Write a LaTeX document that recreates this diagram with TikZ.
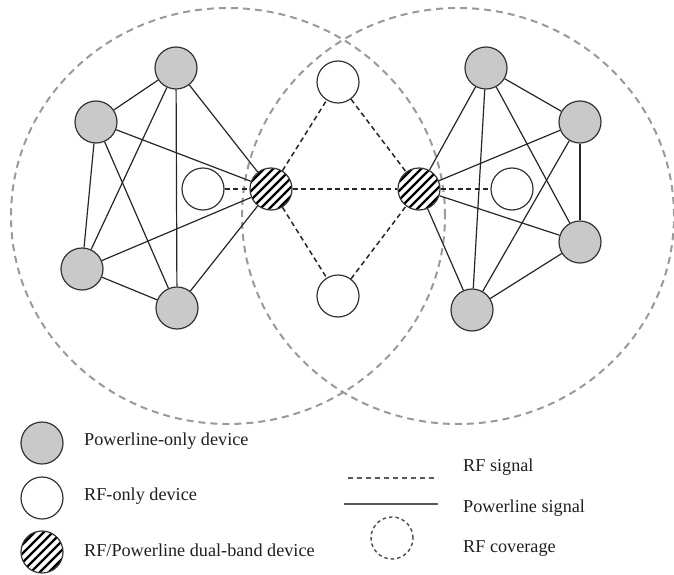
\documentclass[tikz,border=0pt]{standalone}
\usepackage{fontspec}
\setmainfont{Liberation Serif}
\usetikzlibrary{backgrounds}
\definecolor{covgray}{HTML}{9A9A9A}
\definecolor{plgray}{HTML}{C9C9C9}
\definecolor{edge}{HTML}{262626}
\begin{document}
\begin{tikzpicture}[x=1pt,y=-1pt,
  dev/.style={circle,draw=black!80,line width=1.2pt,minimum size=42pt,inner sep=0pt},
  plc/.style={dev,fill=plgray},
  rfo/.style={dev,fill=white},
  dual/.style={dev,fill=white,path picture={
      \foreach \k in {-36,-27,...,36}{
        \draw[line width=2.4pt,black] ([xshift=\k pt]path picture bounding box.center) ++(-30pt,-30pt) -- ++(60pt,60pt);}}},
  pline/.style={draw=edge,line width=1.2pt},
  rfline/.style={draw=edge,line width=1.5pt,dash pattern=on 5pt off 3.5pt},
  cover/.style={draw=covgray,line width=2pt,dash pattern=on 7pt off 5pt},
  lab/.style={anchor=west,inner sep=0pt,font=\fontsize{18.2}{20}\selectfont,text=black!88}
]
\useasboundingbox (0,0) rectangle (674,575);

% devices
\node[plc] (L1) at (176,68) {};
\node[plc] (L2) at (96,122) {};
\node[plc] (L3) at (82,269) {};
\node[plc] (L4) at (177,308) {};
\node[rfo] (WL) at (203,189) {};
\node[dual] (D1) at (271,189) {};
\node[rfo] (TM) at (338,82) {};
\node[rfo] (BM) at (338,296) {};
\node[dual] (D2) at (419,189) {};
\node[rfo] (WR) at (512,189) {};
\node[plc] (R1) at (486,68) {};
\node[plc] (R2) at (580,122) {};
\node[plc] (R3) at (580,242) {};
\node[plc] (R4) at (472,310) {};

\begin{scope}[on background layer]
  \draw[cover] (228,216) ellipse [x radius=217pt, y radius=208pt];
  \draw[cover] (458,216) ellipse [x radius=216pt, y radius=208pt];
  % powerline signals
  \foreach \a/\b in {L1/L2,L1/L3,L1/L4,L1/D1,L2/L3,L2/L4,L2/D1,L3/L4,L3/D1,L4/D1,
                     R1/R2,R1/R3,R1/R4,R1/D2,R2/R3,R2/R4,R2/D2,R3/R4,R3/D2,R4/D2}
    \draw[pline] (\a) -- (\b);
  % RF signals
  \foreach \a/\b in {WL/D1,D1/TM,D1/BM,D1/D2,TM/D2,BM/D2,D2/WR}
    \draw[rfline] (\a) -- (\b);
\end{scope}

% legend
\node[plc] (g1) at (42,443) {};
\node[rfo] (g2) at (42,498) {};
\node[dual] (g3) at (42,552) {};
\node[lab] (t1) at (84,441) {Powerline-only device};
\node[lab] (t2) at (84,496) {RF-only device};
\node[lab] (t3) at (84,550) {RF/Powerline dual-band device};

\coordinate (ra) at (348,478);
\coordinate (rb) at (438,478);
\coordinate (pa) at (344,504);
\coordinate (pb) at (438,504);
\draw[draw=black!65,line width=2pt,dash pattern=on 5pt off 4pt] (ra) -- (rb);
\draw[draw=black!65,line width=2.2pt] (pa) -- (pb);
\node[circle,draw=black!70,line width=1.4pt,dash pattern=on 3.5pt off 3pt,minimum size=42pt,inner sep=0pt] (cc) at (392,538) {};
\node[lab] (t4) at (463,467) {RF signal};
\node[lab] (t5) at (463,508) {Powerline signal};
\node[lab] (t6) at (463,548) {RF coverage};
\end{tikzpicture}
\end{document}
